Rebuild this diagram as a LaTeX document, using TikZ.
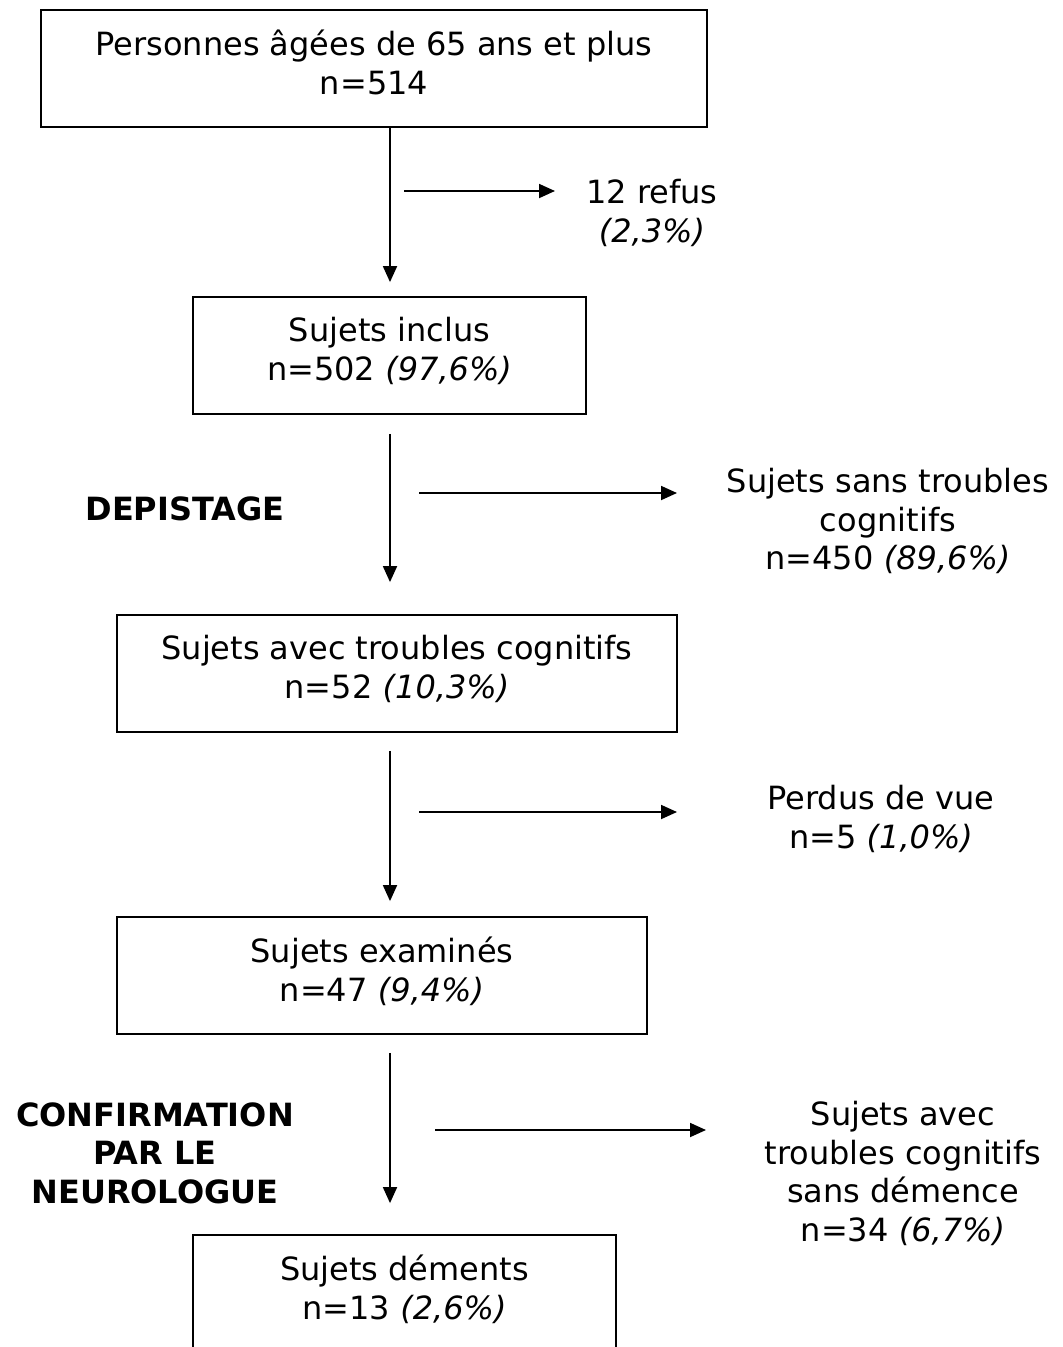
\documentclass[tikz,border=0pt]{standalone}
\usepackage{fontspec}
\setmainfont{DejaVu Sans}
\usetikzlibrary{arrows.meta}
\newcommand\lowpad{\rule[-13pt]{0pt}{13pt}}
\begin{document}
\begin{tikzpicture}[x=1pt,y=-1pt,
  txt/.style={align=center, inner sep=0pt, font=\fontsize{32}{38.5}\selectfont},
  box/.style={txt, draw, line width=1.8pt, minimum height=117pt},
  stage/.style={txt, font=\fontsize{32}{38.5}\selectfont\bfseries},
  arr/.style={line width=1.8pt, -{Triangle[length=16pt,width=14pt]}}]
\clip (0,0) rectangle (1063,1347);
% boxes
\node[box, minimum width=666pt] (b1) at (374,68.5) {Personnes âgées de 65 ans et plus\\n=514\lowpad};
\node[box, minimum width=393pt] (b2) at (389.5,355.5) {Sujets inclus\\n=502 \textit{(97,6\%)}\lowpad};
\node[box, minimum width=560pt] (b3) at (397,673.5) {Sujets avec troubles cognitifs\\n=52 \textit{(10,3\%)}\lowpad};
\node[box, minimum width=530pt] (b4) at (382,975.5) {Sujets examinés\\n=47 \textit{(9,4\%)}\lowpad};
\node[box, minimum width=423pt] (b5) at (404.5,1293.5) {Sujets déments\\n=13 \textit{(2,6\%)}\lowpad};
% side texts
\node[txt] (r1) at (652,213) {12 refus\\\textit{(2,3\%)}};
\node[txt] (r2) at (888,521) {Sujets sans troubles\\cognitifs\\n=450 \textit{(89,6\%)}};
\node[txt] (r3) at (881,819) {Perdus de vue\\n=5 \textit{(1,0\%)}};
\node[txt] (r4) at (903,1173.5) {Sujets avec\\troubles cognitifs\\sans démence\\n=34 \textit{(6,7\%)}};
\node[stage] (s1) at (185,509) {DEPISTAGE};
\node[stage] (s2) at (155,1153) {CONFIRMATION\\PAR LE\\NEUROLOGUE};
% vertical arrows
\draw[arr, shorten >=14pt] ([xshift=16pt]b1.south) -- ([xshift=0.5pt]b2.north);
\draw[arr, shorten <=19pt, shorten >=32pt] ([xshift=0.5pt]b2.south) -- ([xshift=-7pt]b3.north);
\draw[arr, shorten <=18pt, shorten >=15pt] ([xshift=-7pt]b3.south) -- ([xshift=8pt]b4.north);
\draw[arr, shorten <=18pt, shorten >=31pt] ([xshift=8pt]b4.south) -- ([xshift=-14.5pt]b5.north);
% horizontal arrows
\coordinate (h1s) at (404,191); \coordinate (h1e) at (555,191);
\coordinate (h2s) at (419,493); \coordinate (h2e) at (677,493);
\coordinate (h3s) at (419,812); \coordinate (h3e) at (677,812);
\coordinate (h4s) at (435,1130); \coordinate (h4e) at (706,1130);
\draw[arr] (h1s) -- (h1e);
\draw[arr] (h2s) -- (h2e);
\draw[arr] (h3s) -- (h3e);
\draw[arr] (h4s) -- (h4e);
\end{tikzpicture}
\end{document}
